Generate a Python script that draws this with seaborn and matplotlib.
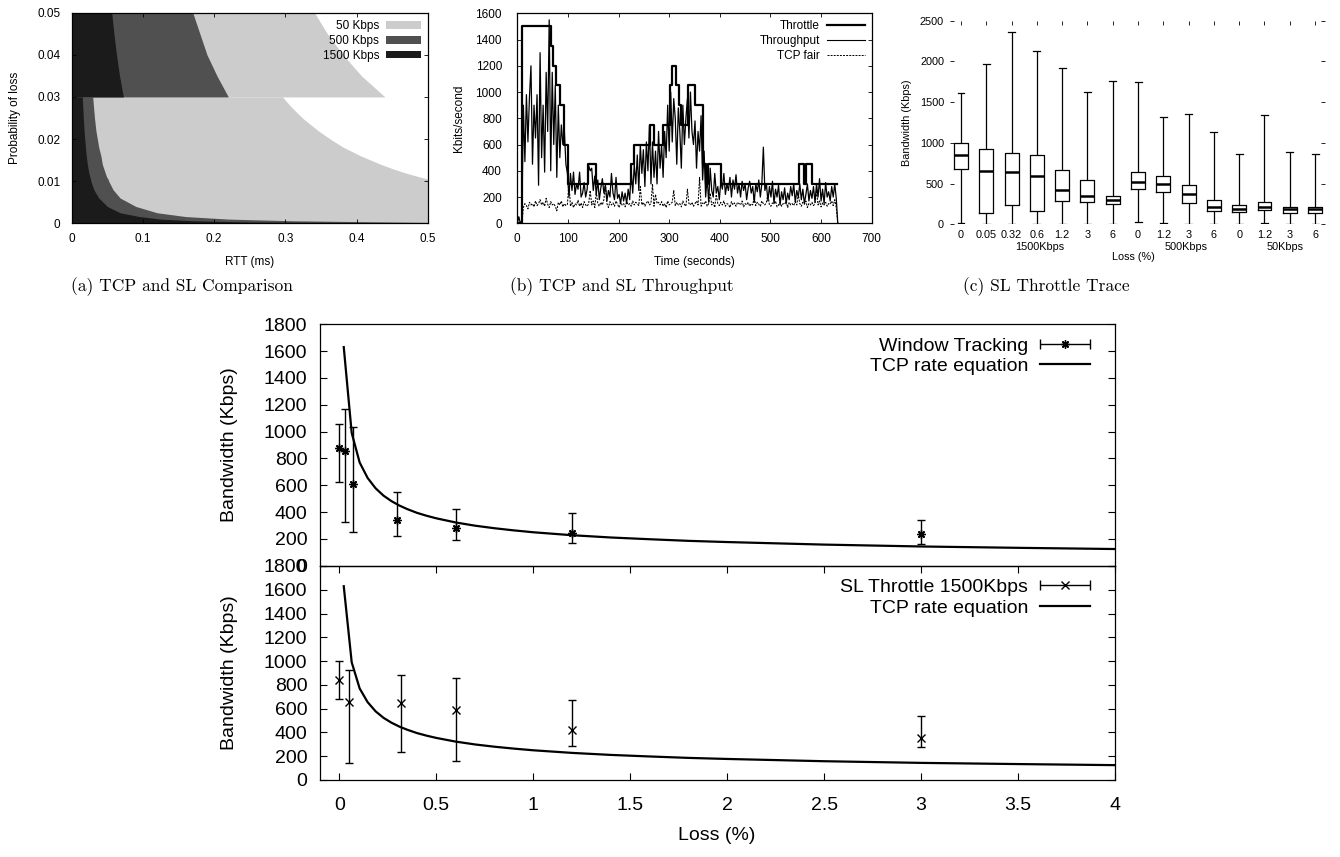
import numpy as np
import pandas as pd
import matplotlib
matplotlib.use("Agg")
import matplotlib.pyplot as plt
from matplotlib.lines import Line2D
from matplotlib.patches import Patch
from matplotlib.collections import LineCollection
from matplotlib.container import ErrorbarContainer
from matplotlib.legend_handler import HandlerErrorbar
import seaborn as sns

SANS = ["Liberation Sans", "DejaVu Sans"]
NARROW = ["Liberation Sans Narrow", "Liberation Sans", "DejaVu Sans"]
SERIF = ["cmr10", "DejaVu Serif"]
plt.rcParams["font.family"] = SANS
plt.rcParams["axes.unicode_minus"] = False
plt.rcParams["axes.linewidth"] = 0.9

# ---------------- data: (a) TCP and SL Comparison ----------------
rate_labels = ["50 Kbps", "500 Kbps", "1500 Kbps"]
rate_colors = ["#cccccc", "#505050", "#1b1b1b"]
loss_hi = [0.030, 0.035, 0.040, 0.045, 0.050]
rtt_hi_50 = [0.440, 0.407, 0.381, 0.359, 0.341]
rtt_hi_500 = [0.220, 0.204, 0.190, 0.180, 0.170]
rtt_hi_1500 = [0.0726, 0.0672, 0.0629, 0.0593, 0.0562]
loss_lo = [0.0, 0.0003, 0.0006, 0.001, 0.0016, 0.0025, 0.004, 0.006, 0.008,
           0.010, 0.0105, 0.011, 0.012, 0.013, 0.014, 0.016, 0.018, 0.020,
           0.022, 0.025, 0.0275, 0.030]
rtt_lo_50 = [0.6, 0.6, 0.6, 0.6, 0.6, 0.6, 0.6, 0.6, 0.6,
             0.513, 0.5, 0.489, 0.468, 0.450, 0.434, 0.406, 0.382, 0.363,
             0.346, 0.324, 0.309, 0.296]
rtt_lo_500 = [0.6, 0.45, 0.31, 0.22, 0.16, 0.12, 0.090, 0.068, 0.058,
              0.052, 0.051, 0.049, 0.047, 0.045, 0.043, 0.041, 0.038, 0.036,
              0.034, 0.032, 0.0307, 0.0295]
rtt_lo_1500 = [0.6, 0.25, 0.17, 0.125, 0.095, 0.068, 0.050, 0.038, 0.031,
               0.027, 0.0265, 0.0255, 0.024, 0.023, 0.022, 0.0205, 0.0193, 0.0183,
               0.0174, 0.0163, 0.0156, 0.0149]

# ---------------- data: (b) TCP and SL Throughput ----------------
throttle_t = [0, 10, 66, 70, 77, 85, 92, 100, 140, 155, 224, 231, 262, 270,
              287, 301, 306, 314, 320, 324, 337, 350, 366, 372, 376, 402,
              556, 566, 571, 582, 631]
throttle_v = [0, 1500, 1350, 1200, 1050, 900, 600, 300, 450, 300, 450, 600,
              750, 600, 750, 1050, 1200, 1050, 900, 750, 1050, 900, 450, 300,
              450, 300, 450, 300, 450, 300, 300]
sample_step = 3  # seconds between samples
throughput = [
    0, 50, 0, 20, 900, 470, 980, 620, 960, 1200,
    450, 900, 650, 980, 290, 1300, 500, 900, 390, 1150,
    700, 1550, 400, 1150, 600, 1050, 350, 900, 500, 750,
    600, 700, 450, 380, 200, 380, 250, 390, 220, 300,
    260, 390, 200, 230, 310, 200, 260, 440, 400, 420,
    250, 360, 220, 330, 180, 270, 340, 230, 290, 170,
    250, 200, 380, 230, 180, 350, 190, 220, 150, 240,
    170, 230, 150, 260, 180, 400, 230, 450, 300, 520,
    250, 600, 380, 560, 280, 620, 400, 750, 300, 620,
    350, 550, 300, 700, 420, 600, 350, 700, 500, 900,
    550, 1000, 620, 950, 800, 450, 880, 700, 420, 900,
    600, 800, 950, 650, 1000, 700, 600, 780, 420, 700,
    550, 820, 330, 550, 200, 350, 160, 420, 250, 200,
    380, 230, 280, 180, 320, 260, 380, 220, 300, 250,
    350, 200, 330, 260, 370, 230, 300, 200, 320, 250,
    300, 180, 270, 320, 230, 280, 160, 300, 240, 330,
    200, 300, 580, 250, 300, 170, 280, 200, 320, 150,
    260, 200, 290, 140, 240, 180, 270, 150, 230, 180,
    280, 210, 300, 160, 250, 200, 300, 180, 260, 150,
    220, 300, 170, 250, 190, 280, 160, 300, 200, 340,
    170, 260, 150, 310, 200, 240, 170, 280, 200, 300,
    190, 0]
tcp_fair = [
    0, 0, 0, 0,
    120, 150, 135, 110, 160, 140, 150, 125, 170, 135,
    150, 180, 140, 160, 130, 190, 145, 120, 165, 140,
    150, 130, 95, 160, 140, 170, 125, 150, 135, 145,
    310, 130, 160, 120, 150, 140, 175, 130, 155, 120,
    165, 140, 130, 150, 250, 140, 170, 120, 240, 150,
    130, 160, 140, 180, 300, 150, 120, 165, 140, 155,
    130, 170, 145, 120, 160, 140, 150, 125, 165, 140,
    150, 130, 170, 140, 160, 150, 135, 280, 140, 160,
    130, 155, 170, 140, 150, 300, 130, 220, 150, 160,
    140, 165, 130, 150, 120, 170, 140, 150, 160, 250,
    135, 160, 140, 150, 125, 170, 145, 130, 260, 150,
    140, 160, 130, 150, 170, 140, 350, 130, 155, 145,
    170, 130, 150, 230, 140, 160, 120, 220, 150, 135,
    160, 140, 170, 130, 150, 145, 120, 165, 140, 155,
    130, 160, 150, 140, 170, 125, 150, 140, 160, 130,
    150, 140, 200, 135, 160, 145, 130, 170, 150, 140,
    160, 220, 140, 130, 155, 150, 170, 125, 140, 160,
    130, 150, 145, 170, 120, 160, 140, 150, 135, 165,
    140, 220, 150, 130, 160, 145, 170, 120, 150, 140,
    160, 135, 150, 250, 140, 170, 125, 155, 140, 160,
    130, 150, 145, 170, 135, 180, 120, 0]

# ---------------- data: (c) SL Throttle Trace ----------------
box_loss = ["0", "0.05", "0.32", "0.6", "1.2", "3", "6",
            "0", "1.2", "3", "6", "0", "1.2", "3", "6"]
group_names = ["1500Kbps", "500Kbps", "50Kbps"]
group_pos = [3.1, 8.9, 12.8]
box_min = [20, 0, 0, 0, 0, 0, 0, 25, 12, 0, 0, 0, 12, 0, 0]
box_q1 = [679, 135, 233, 160, 282, 274, 250, 430, 397, 258, 164, 147, 172, 143, 139]
box_med = [847, 659, 646, 589, 421, 348, 299, 524, 495, 368, 209, 188, 217, 184, 184]
box_q3 = [1002, 920, 880, 855, 667, 540, 352, 638, 597, 479, 303, 233, 270, 217, 217]
box_max = [1608, 1964, 2365, 2132, 1923, 1628, 1763, 1751, 1322, 1350, 1129, 859, 1342, 892, 863]

# ---------------- data: bottom panels ----------------
wt_loss = [0, 0.03, 0.07, 0.3, 0.6, 1.2, 3.0]
wt_bw = [880, 855, 607, 341, 284, 242, 237]
wt_lo = [622, 326, 252, 222, 192, 168, 162]
wt_hi = [1059, 1170, 1036, 552, 421, 391, 341]
sl_loss = [0, 0.05, 0.32, 0.6, 1.2, 3.0]
sl_bw = [841, 659, 645, 586, 420, 351]
sl_lo = [679, 140, 235, 160, 283, 277]
sl_hi = [1003, 925, 880, 858, 673, 541]
eq_loss = [0.023, 0.064, 0.105, 0.146, 0.187, 0.228, 0.269, 0.31, 0.35, 0.40,
           0.45, 0.50, 0.60, 0.70, 0.80, 0.90, 1.0, 1.2, 1.4, 1.6, 1.8, 2.0,
           2.5, 3.0, 3.5, 4.0]
eq_bw = [1630, 990, 770, 655, 578, 523, 482, 449, 423, 395, 373, 354, 323,
         299, 280, 264, 250, 228, 211, 198, 186, 177, 158, 144, 134, 125]

# ---------------- figure ----------------
W, H = 1340, 857
fig = plt.figure(figsize=(W / 100, H / 100), dpi=100)


def rect(x0, y0, x1, y1):
    return [x0 / W, 1 - y1 / H, (x1 - x0) / W, (y1 - y0) / H]


def xlab_at(ax, box, text, yc, size, family, xc=None):
    x0, y0, x1, y1 = box
    ax.set_xlabel(text, fontsize=size, family=family, va="center")
    xf = 0.5 if xc is None else (xc - x0) / (x1 - x0)
    ax.xaxis.set_label_coords(xf, (y1 - yc) / (y1 - y0))


def ylab_at(ax, box, text, xc, size, family):
    x0, y0, x1, y1 = box
    ax.set_ylabel(text, fontsize=size, family=family, va="center")
    ax.yaxis.set_label_coords((xc - x0) / (x1 - x0), 0.5)


# ---- (a)
boxA = (71.7, 12.7, 427.7, 223.3)
axA = fig.add_axes(rect(*boxA))
for lab, col, hi, lo in zip(rate_labels, rate_colors,
                            [rtt_hi_50, rtt_hi_500, rtt_hi_1500],
                            [rtt_lo_50, rtt_lo_500, rtt_lo_1500]):
    axA.fill_betweenx(loss_hi, 0, hi, color=col, lw=0)
    axA.fill_betweenx(loss_lo, 0, lo, color=col, lw=0)
axA.set_xlim(0, 0.5)
axA.set_ylim(0, 0.05)
axA.set_xticks([0, 0.1, 0.2, 0.3, 0.4, 0.5], ["0", "0.1", "0.2", "0.3", "0.4", "0.5"])
axA.set_yticks([0, 0.01, 0.02, 0.03, 0.04, 0.05], ["0", "0.01", "0.02", "0.03", "0.04", "0.05"])
axA.tick_params(axis="both", direction="in", top=True, right=True, length=3,
                width=0.6, labelsize=8.5, labelfontfamily=NARROW)
axA.tick_params(axis="y", pad=8)
axA.tick_params(axis="x", pad=7)
xlab_at(axA, boxA, "RTT (ms)", 262, 8.5, NARROW)
ylab_at(axA, boxA, "Probability of loss", 15, 8.5, NARROW)
handles = [Patch(facecolor=c, edgecolor="none") for c in rate_colors]
axA.legend(handles, rate_labels, loc="upper right", frameon=False, markerfirst=False,
           prop={"family": NARROW, "size": 8.5}, handlelength=2.9, handleheight=0.65,
           labelspacing=0.25, borderaxespad=0.2, handletextpad=0.6)

# ---- (b)
boxB = (517.3, 13.3, 871.7, 223.3)
axB = fig.add_axes(rect(*boxB))
time_axis = np.arange(len(throughput)) * sample_step
time_fair = np.arange(len(tcp_fair)) * sample_step
sns.lineplot(x=time_fair, y=tcp_fair, ax=axB, color="black", linewidth=0.75,
             linestyle=(0, (2, 1.2)), estimator=None, sort=False, legend=False)
sns.lineplot(x=time_axis, y=throughput, ax=axB, color="black", linewidth=0.9,
             estimator=None, sort=False, legend=False)
sns.lineplot(x=throttle_t, y=throttle_v, ax=axB, color="black", linewidth=1.6,
             drawstyle="steps-post", estimator=None, sort=False, legend=False)
axB.set_xlim(0, 700)
axB.set_ylim(0, 1600)
axB.set_xticks(range(0, 701, 100))
axB.set_yticks(range(0, 1601, 200))
axB.tick_params(axis="both", direction="in", top=True, right=True, length=3,
                width=0.6, labelsize=8.5, labelfontfamily=NARROW)
axB.tick_params(axis="y", pad=11)
axB.tick_params(axis="x", pad=7)
xlab_at(axB, boxB, "Time (seconds)", 262, 8.5, NARROW)
ylab_at(axB, boxB, "Kbits/second", 459, 8.5, NARROW)
hB = [Line2D([], [], color="black", lw=1.6),
      Line2D([], [], color="black", lw=0.8),
      Line2D([], [], color="black", lw=0.7, linestyle=(0, (2, 1.2)))]
axB.legend(hB, ["Throttle", "Throughput", "TCP fair"], loc="upper right", frameon=False,
           markerfirst=False, prop={"family": NARROW, "size": 8.5}, handlelength=3.2,
           labelspacing=0.25, borderaxespad=0.2, handletextpad=0.6)

# ---- (c)
boxC = (949.6, 20.7, 1325.2, 224.3)
axC = fig.add_axes(rect(*boxC))
rows = []
for i in range(len(box_loss)):
    for v in (box_min[i], box_q1[i], box_med[i], box_q3[i], box_max[i]):
        rows.append((i, v))
df_c = pd.DataFrame(rows, columns=["pos", "bw"])
sns.boxplot(data=df_c, x="pos", y="bw", ax=axC, whis=(0, 100), fill=False,
            linecolor="black", color="black", width=0.55, linewidth=0.9,
            medianprops=dict(linewidth=1.8), showfliers=False)
axC.set_xlim(-0.45, 14.4)
axC.set_ylim(0, 2500)
axC.set_xticks(range(len(box_loss)), box_loss)
axC.set_yticks(range(0, 2501, 500))
for s in axC.spines.values():
    s.set_visible(False)
C_FS = 7.8
axC.tick_params(axis="x", direction="in", top=True, bottom=False, length=3, width=0.6,
                labelsize=C_FS, labelfontfamily=NARROW, pad=4)
axC.tick_params(axis="y", direction="in", left=True, right=True, length=3, width=0.6,
                labelsize=C_FS, labelfontfamily=NARROW, pad=4)
for gname, gp in zip(group_names, group_pos):
    axC.text(gp, (224.3 - 247.5) / (224.3 - 20.7), gname, transform=axC.get_xaxis_transform(),
             ha="center", va="center", fontsize=C_FS, family=NARROW)
xlab_at(axC, boxC, "Loss (%)", 257, C_FS, NARROW, xc=1133)
ylab_at(axC, boxC, "Bandwidth (Kbps)", 906.7, C_FS, NARROW)

# ---- captions
for txt, xc in [("(a) TCP and SL Comparison", 182), ("(b) TCP and SL Throughput", 622),
                ("(c) SL Throttle Trace", 1046)]:
    fig.text(xc / W, 1 - 287 / H, txt, ha="center", va="center", fontsize=12.5, family=SERIF)

# ---- bottom panels
boxT = (319.9, 324.3, 1115, 565.8)
boxD = (319.9, 566.0, 1115, 780)
axT = fig.add_axes(rect(*boxT))
axD = fig.add_axes(rect(*boxD))
ASTER = (8, 2, 0)

for ax, lx, ly, lo, hi, mk, ms, lab in [
        (axT, wt_loss, wt_bw, wt_lo, wt_hi, ASTER, 6, "Window Tracking"),
        (axD, sl_loss, sl_bw, sl_lo, sl_hi, "x", 6, "SL Throttle 1500Kbps")]:
    ly_a = np.asarray(ly, float)
    ax.errorbar(lx, ly_a, yerr=[ly_a - np.asarray(lo), np.asarray(hi) - ly_a],
                marker=mk, markersize=ms, markeredgewidth=1.0, linestyle="none",
                color="black", ecolor="black", elinewidth=1.0, capsize=3.2, capthick=1.0)
    sns.lineplot(x=eq_loss, y=eq_bw, ax=ax, color="black", linewidth=1.6,
                 estimator=None, sort=False, legend=False)
    ax.set_xlim(-0.1, 4)
    ax.set_ylim(0, 1800)
    ax.set_yticks(range(0, 1801, 200))
    ax.set_facecolor("none")
    ax.tick_params(axis="y", direction="in", left=True, right=True, length=5, width=0.8,
                   labelsize=14, pad=9)
    # legend
    ln = Line2D([], [], marker=mk, markersize=ms, markeredgewidth=1.0,
                linestyle="none", color="black")
    cap = Line2D([], [], color="black", markersize=7, markeredgewidth=1.0, linestyle="none")
    bar = LineCollection([], colors="black", linewidths=1.0)
    eh = ErrorbarContainer((ln, (cap, cap), (bar,)), has_xerr=True, has_yerr=False, label=lab)
    lh = Line2D([], [], color="black", lw=1.6)
    ax.legend([eh, lh], [lab, "TCP rate equation"], loc="upper right", frameon=False,
              markerfirst=False, fontsize=14, handlelength=2.6, handletextpad=0.6,
              labelspacing=0.15, borderaxespad=0.25,
              bbox_to_anchor=(1 - 12 / (1115 - 319.9), 1),
              handler_map={eh: HandlerErrorbar(xerr_size=1.3)})

axT.tick_params(axis="x", bottom=False, top=False, labelbottom=False)
axD.set_xticks([0, 0.5, 1, 1.5, 2, 2.5, 3, 3.5, 4],
               ["0", "0.5", "1", "1.5", "2", "2.5", "3", "3.5", "4"])
axD.tick_params(axis="x", direction="in", top=True, bottom=True, length=5, width=0.8,
                labelsize=14, pad=12)
ylab_at(axT, boxT, "Bandwidth (Kbps)", 229, 14, SANS)
ylab_at(axD, boxD, "Bandwidth (Kbps)", 229, 14, SANS)
xlab_at(axD, boxD, "Loss (%)", 836, 14, SANS, xc=717)

fig.savefig("out.png", dpi=100)
